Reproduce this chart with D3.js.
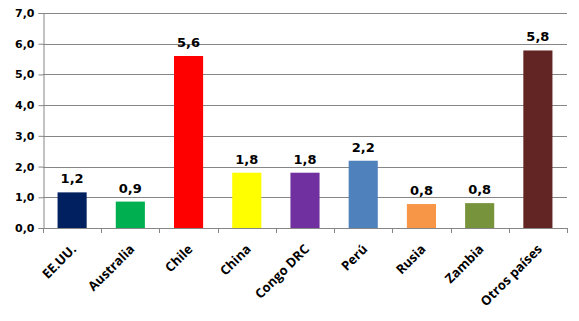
<!DOCTYPE html>
<html>
<head>
<meta charset="utf-8">
<script src="https://d3js.org/d3.v7.min.js"></script>
<style>
  body { margin: 0; background: #fff; }
</style>
</head>
<body>
<svg id="chart" width="579" height="321"></svg>
<script>
const countries = ["EE.UU.", "Australia", "Chile", "China", "Congo DRC", "Perú", "Rusia", "Zambia", "Otros países"];
const values = [1.16, 0.86, 5.6, 1.8, 1.8, 2.19, 0.78, 0.81, 5.78];
const labels = ["1,2", "0,9", "5,6", "1,8", "1,8", "2,2", "0,8", "0,8", "5,8"];
const colors = ["#002060", "#00b050", "#ff0000", "#ffff00", "#7030a0", "#4f81bd", "#f79646", "#77933c", "#632523"];
const yTicks = [0, 1, 2, 3, 4, 5, 6, 7];

const svg = d3.select("#chart");
const mLeft = 43, mRight = 567, mTop = 13, mBottom = 228;

const x = d3.scaleBand().domain(countries).range([mLeft, mRight]).paddingInner(0.5).paddingOuter(0.25);
const xb = d3.scaleBand().domain(countries).range([mLeft, mRight]);
const y = d3.scaleLinear().domain([0, 7]).range([mBottom, mTop]);
const fmt = d => d.toFixed(1).replace(".", ",");

// gridlines
svg.append("g").selectAll("line").data(yTicks.slice(1)).join("line")
  .attr("x1", mLeft).attr("x2", mRight)
  .attr("y1", d => Math.round(y(d)) + 0.5).attr("y2", d => Math.round(y(d)) + 0.5)
  .attr("stroke", "#868686").attr("stroke-width", 1);

// y axis
const yAxis = svg.append("g").attr("transform", `translate(${mLeft + 0.5},0)`)
  .call(d3.axisLeft(y).tickValues(yTicks).tickFormat(fmt).tickSize(5).tickPadding(4));
yAxis.select(".domain").attr("stroke", "#868686");
yAxis.selectAll(".tick line").attr("stroke", "#868686");
yAxis.selectAll("text").attr("fill", "#000").style("font", "bold 11px 'DejaVu Sans'");

// bars
svg.append("g").selectAll("rect").data(countries).join("rect")
  .attr("x", d => x(d))
  .attr("width", x.bandwidth())
  .attr("y", (d, i) => y(values[i]))
  .attr("height", (d, i) => mBottom - y(values[i]))
  .attr("fill", (d, i) => colors[i]);

// value labels
svg.append("g").selectAll("text").data(countries).join("text")
  .attr("x", d => x(d) + x.bandwidth() / 2)
  .attr("y", (d, i) => y(values[i]) - 9)
  .attr("text-anchor", "middle")
  .style("font", "bold 13px 'DejaVu Sans'")
  .text((d, i) => labels[i]);

// x axis
const xg = svg.append("g");
xg.append("line").attr("x1", mLeft).attr("x2", mRight)
  .attr("y1", mBottom + 0.5).attr("y2", mBottom + 0.5).attr("stroke", "#868686");
xg.selectAll("line.tk").data(countries.concat(["end"])).join("line").attr("class", "tk")
  .attr("x1", (d, i) => Math.round(mLeft + i * xb.step()) + 0.5)
  .attr("x2", (d, i) => Math.round(mLeft + i * xb.step()) + 0.5)
  .attr("y1", mBottom).attr("y2", mBottom + 5)
  .attr("stroke", "#868686");
xg.selectAll("text").data(countries).join("text")
  .attr("transform", d => `translate(${xb(d) + xb.bandwidth() / 2 + 5},250) rotate(-45)`)
  .attr("text-anchor", "end")
  .style("font", "bold 13px 'Open Sans'")
  .text(d => d);
</script>
</body>
</html>
